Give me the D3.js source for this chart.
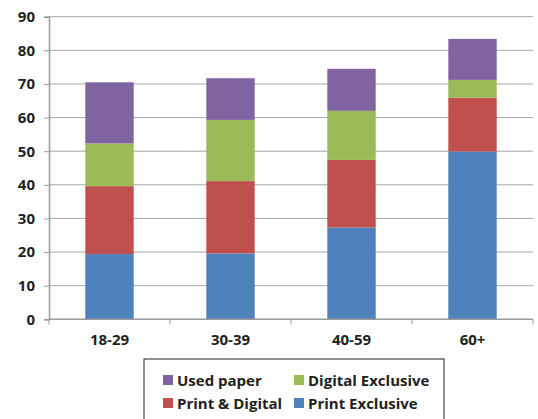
<!DOCTYPE html>
<html>
<head>
<meta charset="utf-8">
<script src="https://cdn.jsdelivr.net/npm/d3@7"></script>
<style>
  body { margin: 0; background: #fff; }
  text { font-family: "Open Sans", Lato, sans-serif; font-weight: bold; fill: #231f20; }
</style>
</head>
<body>
<svg id="chart" width="538" height="419"></svg>
<script>
// chart data
var categories = ['18-29', '30-39', '40-59', '60+'];
var printExclusive = [19.4, 19.6, 27.3, 49.9];
var printDigital = [20.2, 21.5, 20.1, 16.0];
var digitalExclusive = [12.7, 18.2, 14.6, 5.3];
var usedPaper = [18.2, 12.4, 12.5, 12.2];
var yTicks = [0, 10, 20, 30, 40, 50, 60, 70, 80, 90];

var seriesNames = ['Print Exclusive', 'Print & Digital', 'Digital Exclusive', 'Used paper'];
var seriesValues = [printExclusive, printDigital, digitalExclusive, usedPaper];
var seriesColors = ['#4f81bd', '#c0504d', '#9bbb59', '#8064a2'];

var svg = d3.select('#chart');
var margin = { left: 49, right: 5, top: 16.7, bottom: 99.7 };
var width = 538 - margin.left - margin.right;
var height = 419 - margin.top - margin.bottom;

var g = svg.append('g').attr('transform', 'translate(' + margin.left + ',' + margin.top + ')');

var x = d3.scaleBand().domain(categories).range([0, width]).paddingInner(0.6).paddingOuter(0.3);
var y = d3.scaleLinear().domain([0, 90]).range([height, 0]);

// build rows for stack
var rows = categories.map(function (c, i) {
  var r = { cat: c };
  seriesNames.forEach(function (n, k) { r[n] = seriesValues[k][i]; });
  return r;
});
var stacked = d3.stack().keys(seriesNames)(rows);

// gridlines
g.append('g').selectAll('line').data(yTicks.slice(1)).enter().append('line')
  .attr('x1', 0).attr('x2', width)
  .attr('y1', function (d) { return y(d); }).attr('y2', function (d) { return y(d); })
  .attr('stroke', '#a6a6a6').attr('stroke-width', 1);

// bars
g.append('g').selectAll('g').data(stacked).enter().append('g')
  .attr('fill', function (d, i) { return seriesColors[i]; })
  .selectAll('rect').data(function (d) { return d; }).enter().append('rect')
  .attr('x', function (d) { return x(d.data.cat); })
  .attr('width', x.bandwidth())
  .attr('y', function (d) { return y(d[1]); })
  .attr('height', function (d) { return y(d[0]) - y(d[1]); });

// y axis
var yAxis = g.append('g').call(d3.axisLeft(y).tickValues(yTicks).tickSize(5).tickPadding(9));
yAxis.select('.domain').attr('stroke', '#999').attr('stroke-width', 1.5);
yAxis.selectAll('.tick line').attr('stroke', '#999');
yAxis.selectAll('text').style('font-size', '15px');

// x axis, ticks at category boundaries
var xAxis = g.append('g').attr('transform', 'translate(0,' + height + ')');
xAxis.append('line').attr('x1', 0).attr('x2', width).attr('stroke', '#999').attr('stroke-width', 1.5);
var step = width / categories.length;
xAxis.selectAll('.sep').data(d3.range(categories.length + 1)).enter().append('line')
  .attr('x1', function (d) { return d * step; }).attr('x2', function (d) { return d * step; })
  .attr('y1', 0).attr('y2', 5).attr('stroke', '#999');
xAxis.selectAll('.lbl').data(categories).enter().append('text')
  .attr('x', function (d) { return x(d) + x.bandwidth() / 2; })
  .attr('y', 26).attr('text-anchor', 'middle').style('font-size', '15px')
  .text(function (d) { return d; });

// legend
var legend = svg.append('g').attr('transform', 'translate(144,359)');
legend.append('rect').attr('width', 300).attr('height', 80)
  .attr('fill', 'none').attr('stroke', '#231f20').attr('stroke-width', 1);
var legendOrder = [3, 2, 1, 0];
legend.selectAll('g.item').data(legendOrder).enter().append('g')
  .attr('transform', function (d, i) {
    return 'translate(' + (i % 2 === 0 ? 19 : 150) + ',' + (i < 2 ? 21 : 44) + ')';
  })
  .each(function (d) {
    var it = d3.select(this);
    it.append('rect').attr('x', 0).attr('y', -5).attr('width', 10).attr('height', 10).attr('fill', seriesColors[d]);
    it.append('text').attr('x', 14).attr('y', 5.5).style('font-size', '15px').text(seriesNames[d]);
  });
</script>
</body>
</html>
